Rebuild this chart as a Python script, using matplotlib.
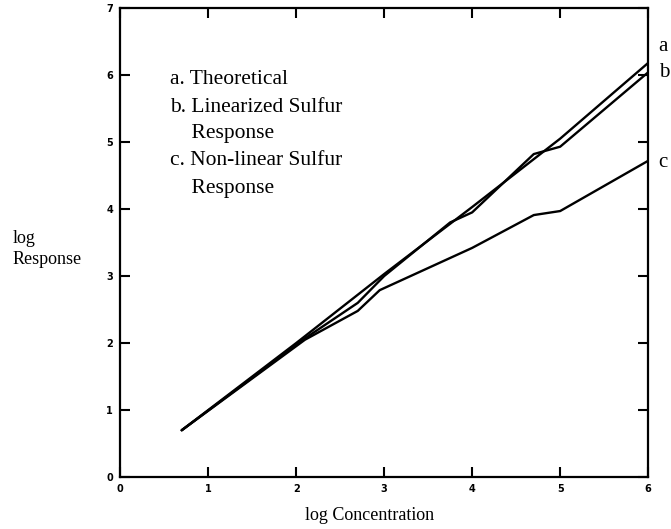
import matplotlib
matplotlib.use("Agg")
import matplotlib.pyplot as plt

# curve a: theoretical
a_x = [0.7, 2.0, 3.0, 4.0, 5.0, 6.0]
a_y = [0.7, 2.0, 3.03, 4.03, 5.05, 6.18]

# curve b: linearized sulfur response
b_x = [0.7, 2.1, 2.7, 3.0, 3.75, 4.0, 4.7, 5.0, 6.0]
b_y = [0.7, 2.07, 2.6, 3.0, 3.8, 3.95, 4.82, 4.93, 6.04]

# curve c: non-linear sulfur response
c_x = [0.7, 2.1, 2.7, 2.95, 3.2, 4.0, 4.7, 5.0, 6.0]
c_y = [0.7, 2.05, 2.48, 2.79, 2.94, 3.42, 3.91, 3.97, 4.72]

legend_lines = ["a. Theoretical", "b. Linearized Sulfur", "    Response",
                "c. Non-linear Sulfur", "    Response"]
end_labels = ["a", "b", "c"]

serif = ["Liberation Serif", "DejaVu Serif"]

fig = plt.figure(figsize=(6.71, 5.29), dpi=100)
ax = fig.add_axes([0.179, 0.098, 0.787, 0.887])

for xs, ys in [(a_x, a_y), (b_x, b_y), (c_x, c_y)]:
    ax.plot(xs, ys, color="black", lw=1.7, solid_capstyle="round",
            solid_joinstyle="round")

ax.set_xlim(0, 6)
ax.set_ylim(0, 7)
ax.set_xticks(range(0, 7))
ax.set_yticks(range(0, 8))
ax.tick_params(direction="in", length=7, width=1.5, labelsize=7,
               top=True, right=True, pad=5)
for lab in ax.get_xticklabels() + ax.get_yticklabels():
    lab.set_fontweight("bold")
for sp in ax.spines.values():
    sp.set_linewidth(1.6)

# legend text inside plot
leg_y = [5.93, 5.52, 5.13, 4.73, 4.31]
for txt, y in zip(legend_lines, leg_y):
    ax.text(0.57, y, txt, family=serif, fontsize=15.5, va="center", ha="left")

# labels at line ends
for txt, y in zip(end_labels, [6.42, 6.04, 4.70]):
    ax.text(6.12, y, txt, family=serif, fontsize=15, va="center", ha="left",
            clip_on=False)

fig.text(13 / 671, 1 - 238 / 529, "log", family=serif, fontsize=13,
         va="center", ha="left")
fig.text(13 / 671, 1 - 260 / 529, "Response", family=serif, fontsize=13,
         va="center", ha="left")
fig.text(370 / 671, 1 - 516 / 529, "log Concentration", family=serif,
         fontsize=13, va="center", ha="center")

fig.savefig("out.png", dpi=100)
